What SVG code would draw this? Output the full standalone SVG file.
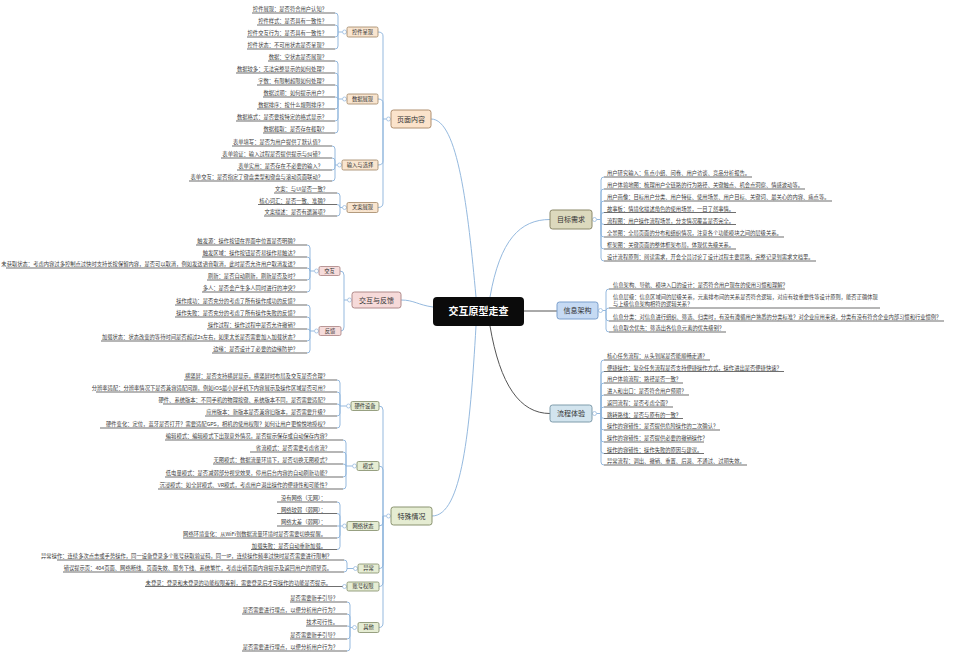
<svg xmlns="http://www.w3.org/2000/svg" width="959" height="663" viewBox="0 0 959 663">
<style>
.t{font-family:"Noto Sans CJK SC","Noto Sans",sans-serif;font-size:5.3px;fill:#3a3a3a}
.e{text-anchor:end}
.u{stroke:#6f6f6f;stroke-width:1.2;fill:none}
.b{stroke:#8fb5dc;stroke-width:0.95;fill:none}
.d{stroke:#555;stroke-width:1;fill:none}
.k{fill:#fff;stroke:#8fb5dc;stroke-width:0.7}
.m{font-family:"Noto Sans CJK SC","Noto Sans",sans-serif;font-size:7px;fill:#333;text-anchor:middle}
.s{font-family:"Noto Sans CJK SC","Noto Sans",sans-serif;font-size:5.3px;fill:#333;text-anchor:middle}
.o{fill:#f9e5cf;stroke:#a08463;stroke-width:0.8}
.p{fill:#f6dcdb;stroke:#a88080;stroke-width:0.8}
.g{fill:#e6edd4;stroke:#7f8a66;stroke-width:0.8}
</style>
<rect width="959" height="663" fill="#fff"/>
<g id="connectors">
<path class="b" d="M476,297 C468,210 458,119 431,119"/>
<path class="b" d="M433,307 C418,305 414,300 401,300"/>
<path class="b" d="M476,326 C470,430 462,516 432,516"/>
<path class="b" d="M490,297 C500,240 520,219.5 550,219.5"/>
<path class="d" d="M524,311 H557"/>
<path class="d" d="M490,326 C500,385 520,413.5 550,413.5"/>
<path class="b" d="M386.5,119H383 M383,119V36Q383,32 378,32 M383,119V103Q383,99 378,99 M383,119V161Q383,165 378,165 M383,119V203Q383,207.5 378,207.5"/>
<path class="b" d="M347.5,300H344 M344,300V275Q344,271 340,271 M344,300V327Q344,331 341,331"/>
<path class="b" d="M386.5,516H383 M383,516V410Q383,406 379,406 M383,516V470Q383,466 379,466 M383,516V522Q383,526 379,526 M383,516V564Q383,568.5 379,568.5 M383,516V582Q383,586.5 379,586.5 M383,516V623Q383,627.5 379,627.5"/>
<path class="b" d="M342.5,32H338 M338,32V16Q338,13 335,13 M338,32V28Q338,25 335,25 M338,32V34Q338,37 335,37 M338,32V46Q338,49 335,49"/>
<path class="b" d="M342.5,99H338 M338,99V64Q338,61 335,61 M338,99V76Q338,73 335,73 M338,99V88Q338,85 335,85 M338,99Q338,97 335,97 M338,99V106Q338,109 335,109 M338,99V118Q338,121 335,121 M338,99V130Q338,133 335,133"/>
<path class="b" d="M337.5,165H335 M335,165V149Q335,146 332,146 M335,165V161Q335,158 332,158 M335,165V167Q335,170 332,170 M335,165V178Q335,181 332,181"/>
<path class="b" d="M342.5,207.5H340 M340,207.5V196Q340,193 337,193 M340,207.5Q340,204.5 337,204.5 M340,207.5V213Q340,216 337,216"/>
<path class="b" d="M314.5,271H310 M310,271V248Q310,245 307,245 M310,271V260Q310,257 307,257 M310,271Q310,268 307,268 M310,271V277Q310,280 307,280 M310,271V289Q310,292 307,292"/>
<path class="b" d="M314.5,331H310 M310,331V308Q310,305 307,305 M310,331V320Q310,317 307,317 M310,331Q310,329 307,329 M310,331V338Q310,341 307,341 M310,331V350Q310,353 307,353"/>
<path class="b" d="M346.5,406H340 M340,406V383Q340,380 337,380 M340,406V395Q340,392 337,392 M340,406Q340,404 337,404 M340,406V413Q340,416 337,416 M340,406V425Q340,428 337,428"/>
<path class="b" d="M352.5,466H346 M346,466V443Q346,440 343,440 M346,466V455Q346,452 343,452 M346,466Q346,464 343,464 M346,466V474Q346,477 343,477 M346,466V486Q346,489 343,489"/>
<path class="b" d="M342.5,526H337 M340,526V505Q340,502 337,502 M340,526V516.5Q340,513.5 337,513.5 M340,526V535Q340,538 337,538 M340,526V546.5Q340,549.5 337,549.5"/>
<path class="b" d="M353.5,568.5H347 M347,568.5V563Q347,560 344,560 M347,568.5V569Q347,572 344,572"/>
<path class="b" d="M352.5,627.5H350 M350,627.5V605Q350,602 347,602 M350,627.5V617Q350,614 347,614 M350,627.5Q350,626 347,626 M350,627.5V636Q350,639 347,639 M350,627.5V648Q350,651 347,651"/>
<path class="b" d="M596.5,219.5H601 M601,219.5V180Q601,177 604,177 M601,219.5V192Q601,189 604,189 M601,219.5V204Q601,201 604,201 M601,219.5V215.5Q601,212.5 604,212.5 M601,219.5V221.5Q601,224.5 604,224.5 M601,219.5V234Q601,237 604,237 M601,219.5V246Q601,249 604,249 M601,219.5V258Q601,261 604,261"/>
<path class="b" d="M602.5,310.5H606 M606,310.5V292Q606,289 609,289 M606,310.5Q606,308 609,308 M606,310.5V318Q606,321 609,321 M606,310.5V329Q606,332 609,332"/>
<path class="b" d="M596.5,413.5H601 M601,413.5V363Q601,360 604,360 M601,413.5V374.5Q601,371.5 604,371.5 M601,413.5V386Q601,383 604,383 M601,413.5V398Q601,395 604,395 M601,413.5V410Q601,407 604,407 M601,413.5V415.5Q601,418.5 604,418.5 M601,413.5V427Q601,430 604,430 M601,413.5V439Q601,442 604,442 M601,413.5V450.5Q601,453.5 604,453.5 M601,413.5V462Q601,465 604,465"/>
<g>
<circle class="k" cx="388.5" cy="119" r="2"/><circle class="k" cx="349.5" cy="300" r="2"/><circle class="k" cx="388.5" cy="516" r="2"/>
<circle class="k" cx="344.5" cy="32" r="2"/><circle class="k" cx="344.5" cy="99" r="2"/><circle class="k" cx="339.5" cy="165" r="2"/><circle class="k" cx="344.5" cy="207.5" r="2"/>
<circle class="k" cx="316.5" cy="271" r="2"/><circle class="k" cx="316.5" cy="331" r="2"/>
<circle class="k" cx="348.5" cy="406" r="2"/><circle class="k" cx="354.5" cy="466" r="2"/><circle class="k" cx="344.5" cy="526" r="2"/><circle class="k" cx="355.5" cy="568.5" r="2"/><circle class="k" cx="344.5" cy="586.5" r="2"/><circle class="k" cx="354.5" cy="627.5" r="2"/>
<circle class="k" cx="594.5" cy="219.5" r="2"/><circle class="k" cx="600.5" cy="310.5" r="2"/><circle class="k" cx="594.5" cy="413.5" r="2"/>
</g>
</g>

<g id="center"><rect x="433" y="297" width="91" height="29" rx="4" fill="#0b0b0b"/><text x="478.5" y="315" font-family="Noto Sans CJK SC, sans-serif" font-size="10" font-weight="bold" fill="#fff" text-anchor="middle">交互原型走查</text></g>
<g id="n-mubiao"><rect x="550" y="210" width="42" height="19" rx="2.5" fill="#dcd9bd" stroke="#8b8868"/><text class="m" x="571" y="222">目标需求</text></g>
<g id="n-xinxi"><rect x="557" y="302" width="41" height="17" rx="2.5" fill="#c6daf3" stroke="#7b9fcd"/><text class="m" x="577.5" y="313">信息架构</text></g>
<g id="n-liucheng"><rect x="550" y="405" width="42" height="17" rx="2.5" fill="#d2e4ee" stroke="#7f9cab"/><text class="m" x="571" y="416">流程体验</text></g>
<g id="n-yemian"><rect x="391" y="110" width="40" height="18" rx="2.5" fill="#fbe3cb" stroke="#b09070"/><text class="m" x="411" y="121.5">页面内容</text></g>
<g id="n-jiaohu"><rect x="352" y="292" width="49" height="16" rx="2.5" fill="#f6dad9" stroke="#b08a8a"/><text class="m" x="376.5" y="302.5">交互与反馈</text></g>
<g id="n-teshu"><rect x="391" y="507" width="41" height="18" rx="2.5" fill="#e5ecd2" stroke="#8a9370"/><text class="m" x="411.5" y="518.5">特殊情况</text></g>

<g id="s-kongjian"><rect class="o" x="347" y="27" width="31" height="10" rx="1.5"/><text class="s" x="362.5" y="33.9">控件呈现</text></g>
<g id="s-shuju"><rect class="o" x="347" y="94" width="31" height="10" rx="1.5"/><text class="s" x="362.5" y="100.9">数据展现</text></g>
<g id="s-shuru"><rect class="o" x="342" y="160" width="36" height="10" rx="1.5"/><text class="s" x="360" y="166.9">输入与选择</text></g>
<g id="s-wenan"><rect class="o" x="347" y="202.5" width="31" height="10" rx="1.5"/><text class="s" x="362.5" y="209.4">文案展现</text></g>
<g id="s-jh"><rect class="p" x="319" y="266.5" width="21" height="9" rx="1.5"/><text class="s" x="329.5" y="272.9">交互</text></g>
<g id="s-fk"><rect class="p" x="319" y="326.5" width="22" height="9" rx="1.5"/><text class="s" x="330" y="332.9">反馈</text></g>
<g id="s-yingjian"><rect class="g" x="351" y="401.5" width="28" height="9" rx="1.5"/><text class="s" x="365" y="407.9">硬件设备</text></g>
<g id="s-moshi"><rect class="g" x="357" y="461.5" width="22" height="9" rx="1.5"/><text class="s" x="368" y="467.9">模式</text></g>
<g id="s-wangluo"><rect class="g" x="347" y="521.5" width="32" height="9" rx="1.5"/><text class="s" x="363" y="527.9">网络状态</text></g>
<g id="s-yichang"><rect class="g" x="358" y="564" width="21" height="9" rx="1.5"/><text class="s" x="368.5" y="570.4">异常</text></g>
<g id="s-zhanghao"><rect class="g" x="347" y="582" width="32" height="9" rx="1.5"/><text class="s" x="363" y="588.4">账号权限</text></g>
<g id="s-qita"><rect class="g" x="358" y="622.5" width="21" height="10" rx="1.5"/><text class="s" x="368.5" y="629.4">其他</text></g>

<g id="leaves-kongjian">
<g id="a1"><path class="u" d="M252,13H335"/><text class="t e" x="327" y="11">控件展现：是否符合用户认知？</text></g>
<g id="a2"><path class="u" d="M257,25H335"/><text class="t e" x="327" y="23">控件样式：是否具有一致性？</text></g>
<g id="a3"><path class="u" d="M247,37H335"/><text class="t e" x="327" y="35">控件交互行为：是否具有一致性？</text></g>
<g id="a4"><path class="u" d="M247,49H335"/><text class="t e" x="327" y="47">控件状态：不可用状态是否呈现？</text></g>
</g>
<g id="leaves-shuju">
<g id="b1"><path class="u" d="M268,61H335"/><text class="t e" x="327" y="59">数据：空状态是否展现？</text></g>
<g id="b2"><path class="u" d="M236,73H335"/><text class="t e" x="327" y="71">数据较多：无法完整显示的如何处理？</text></g>
<g id="b3"><path class="u" d="M257,85H335"/><text class="t e" x="327" y="83">字数：有限制超限如何处理？</text></g>
<g id="b4"><path class="u" d="M263,97H335"/><text class="t e" x="327" y="95">数据过期：如何提示用户？</text></g>
<g id="b5"><path class="u" d="M257,109H335"/><text class="t e" x="327" y="107">数据排序：按什么规则排序？</text></g>
<g id="b6"><path class="u" d="M236,121H335"/><text class="t e" x="327" y="119">数据格式：是否要按特定的格式显示？</text></g>
<g id="b7"><path class="u" d="M263,133H335"/><text class="t e" x="327" y="131">数据截取：是否存在截取？</text></g>
</g>
<g id="leaves-shuru">
<g id="c1"><path class="u" d="M232,146H332"/><text class="t e" x="323" y="144">表单填写：是否为用户提供了默认值？</text></g>
<g id="c2"><path class="u" d="M221,158H332"/><text class="t e" x="323" y="156">表单验证：输入过程是否提供提示与纠错？</text></g>
<g id="c3"><path class="u" d="M237,170H332"/><text class="t e" x="323" y="168">表单实用：是否存在不必要的输入？</text></g>
<g id="c4"><path class="u" d="M189,181H332"/><text class="t e" x="323" y="179">表单交互：是否指定了键盘类型和键盘与滚动页面联动？</text></g>
</g>
<g id="leaves-wenan">
<g id="d1"><path class="u" d="M274,193H337"/><text class="t e" x="328" y="191">文案：与UI是否一致？</text></g>
<g id="d2"><path class="u" d="M258,204.5H337"/><text class="t e" x="328" y="202.5">核心词汇：是否一致、准确？</text></g>
<g id="d3"><path class="u" d="M264,216H337"/><text class="t e" x="328" y="214">文案描述：是否有遗漏项？</text></g>
</g>
<g id="leaves-jiaohu">
<g id="e1"><path class="u" d="M196,245H307"/><text class="t e" x="298" y="243">触发源：操作按钮在界面中位置是否明确？</text></g>
<g id="e2"><path class="u" d="M202,257H307"/><text class="t e" x="298" y="255">触发区域：操作按钮是否易操作易触达？</text></g>
<g id="e3"><path class="u" d="M6,268H307"/><text class="t e" x="298" y="266">未获取状态：考虑内容过多控制点过快时支持长按保留内容，是否可以取消，例如发送语音取消，此时是否允许用户取消发送？</text></g>
<g id="e4"><path class="u" d="M207,280H307"/><text class="t e" x="298" y="278">刷新：是否自动刷新，刷新是否及时？</text></g>
<g id="e5"><path class="u" d="M202,292H307"/><text class="t e" x="298" y="290">多人：是否会产生多人同时进行的冲突？</text></g>
</g>
<g id="leaves-fankui">
<g id="f1"><path class="u" d="M175,305H307"/><text class="t e" x="298" y="303">操作成功：是否充分的考虑了所有操作成功的反馈？</text></g>
<g id="f2"><path class="u" d="M175,317H307"/><text class="t e" x="298" y="315">操作失败：是否充分的考虑了所有操作失败的反馈？</text></g>
<g id="f3"><path class="u" d="M207,329H307"/><text class="t e" x="298" y="327">操作过程：操作过程中是否允许撤销？</text></g>
<g id="f4"><path class="u" d="M101,341H307"/><text class="t e" x="298" y="339">加载状态：状态改变的等待时间是否超过2s左右，如果太长是否需要加入加载状态？</text></g>
<g id="f5"><path class="u" d="M212,353H307"/><text class="t e" x="298" y="351">边缘：是否设计了必要的边缘防护？</text></g>
</g>
<g id="leaves-yingjian">
<g id="g1"><path class="u" d="M184,380H337"/><text class="t e" x="328" y="378">横竖屏：是否支持横屏显示，横竖屏时布局及交互是否合理？</text></g>
<g id="g2"><path class="u" d="M96,392H337"/><text class="t e" x="328" y="390">分辨率适配：分辨率情况下是否兼容适配问题，例如iOS最小屏手机下内容展示及操作区域是否可用？</text></g>
<g id="g3"><path class="u" d="M163,404H337"/><text class="t e" x="328" y="402">硬件、系统版本：不同手机的物理按键、系统版本不同，是否需要适配？</text></g>
<g id="g4"><path class="u" d="M205,416H337"/><text class="t e" x="328" y="414">应用版本：新版本是否兼容旧版本，是否需要升级？</text></g>
<g id="g5"><path class="u" d="M100,428H337"/><text class="t e" x="328" y="426">硬件变化：定位，蓝牙是否打开？需要适配GPS，相机的使用权限？如何让用户更愉悦地授权？</text></g>
</g>
<g id="leaves-moshi">
<g id="h1"><path class="u" d="M165,440H343"/><text class="t e" x="330" y="438">编辑模式：编辑模式下出现意外情况，是否提示保存或自动保存内容？</text></g>
<g id="h2"><path class="u" d="M250,452H343"/><text class="t e" x="330" y="450">省流模式：是否需要考虑省流？</text></g>
<g id="h3"><path class="u" d="M213,464H343"/><text class="t e" x="330" y="462">无图模式：数据流量环境下，是否切换无图模式？</text></g>
<g id="h4"><path class="u" d="M165,477H343"/><text class="t e" x="330" y="475">低电量模式：是否减弱部分视觉效果，停用后台内容的自动刷新功能？</text></g>
<g id="h5"><path class="u" d="M158,489H343"/><text class="t e" x="330" y="487">沉浸模式：如全屏模式、VR模式，考虑用户退出操作的便捷性和可能性？</text></g>
</g>
<g id="leaves-wangluo">
<g id="i1"><path class="u" d="M277,502H337"/><text class="t e" x="326" y="500">没有网络（无网）：</text></g>
<g id="i2"><path class="u" d="M277,513.5H337"/><text class="t e" x="326" y="511.5">网络较弱（弱网）：</text></g>
<g id="i3"><path class="u" d="M277,526H337"/><text class="t e" x="326" y="524">网络太差（弱网）：</text></g>
<g id="i4"><path class="u" d="M183,538H337"/><text class="t e" x="326" y="536">网络环境变化：从WiFi到数据流量环境时是否需要切换提醒。</text></g>
<g id="i5"><path class="u" d="M251,549.5H337"/><text class="t e" x="326" y="547.5">加载失败：是否自动重新加载。</text></g>
</g>
<g id="leaves-yichang">
<g id="j1"><path class="u" d="M57,560H344"/><text class="t e" x="332" y="558">异常操作：连续多次点击或手势操作，同一设备登录多个账号获取验证码，同一IP，连续操作频率过快时是否需要进行限制？</text></g>
<g id="j2"><path class="u" d="M63,572H344"/><text class="t e" x="332" y="570">错误提示页：404页面、网络断线、页面失效、服务下线、系统繁忙，考虑出错页面内容提示及返回用户的期望页。</text></g>
</g>
<g id="leaves-zhanghao">
<g id="k1"><path class="u" d="M145,586.5H342.5"/><text class="t e" x="331" y="584.5">未登录：登录和未登录的功能权限差别，需要登录后才可操作的功能是否提示。</text></g>
</g>
<g id="leaves-qita">
<g id="m1"><path class="u" d="M290,602H347"/><text class="t e" x="338" y="600">是否需要新手引导？</text></g>
<g id="m2"><path class="u" d="M242,614H347"/><text class="t e" x="338" y="612">是否需要进行埋点，以便分析用户行为？</text></g>
<g id="m3"><path class="u" d="M306,626H347"/><text class="t e" x="338" y="624">技术可行性。</text></g>
<g id="m4"><path class="u" d="M290,639H347"/><text class="t e" x="338" y="637">是否需要新手引导？</text></g>
<g id="m5"><path class="u" d="M242,651H347"/><text class="t e" x="338" y="649">是否需要进行埋点，以便分析用户行为？</text></g>
</g>

<g id="leaves-mubiao">
<g id="r1"><path class="u" d="M604,177H752"/><text class="t" x="607" y="175">用户研究输入：焦点小组、问卷、用户访谈、竞品分析报告。</text></g>
<g id="r2"><path class="u" d="M604,189H805"/><text class="t" x="607" y="187">用户体验地图：梳理用户全链路的行为路径、关键触点、机会点洞察、情感波动等。</text></g>
<g id="r3"><path class="u" d="M604,201H832"/><text class="t" x="607" y="199">用户画像：目标用户分类、用户特征、使用场景、用户目标、关键词、最关心的内容、痛点等。</text></g>
<g id="r4"><path class="u" d="M604,212.5H736"/><text class="t" x="607" y="210.5">故事板：情境化描述角色的使用场景，一目了然事情。</text></g>
<g id="r5"><path class="u" d="M604,224.5H736"/><text class="t" x="607" y="222.5">流程图：用户操作流程场景，分支情况覆盖是否完全。</text></g>
<g id="r6"><path class="u" d="M604,237H784"/><text class="t" x="607" y="235">全景图：全局页面的分布和组织情况，注意各个功能模块之间的层级关系。</text></g>
<g id="r7"><path class="u" d="M604,249H736"/><text class="t" x="607" y="247">框架图：关键页面的整体框架布局，体现优先级关系。</text></g>
<g id="r8"><path class="u" d="M604,261H816"/><text class="t" x="607" y="259">设计流程原则：阅读需求，开会全员讨论了设计过程主要思路，完整记录到需求文档里。</text></g>
</g>
<g id="leaves-xinxi">
<g id="x1"><path class="u" d="M609,289H785"/><text class="t" x="613" y="287">信息架构、导航、模块入口的设计：是否符合用户现在的使用习惯和理解？</text></g>
<g id="x2"><path class="u" d="M609,308H880"/><text class="t" x="613" y="299">信息层级：信息区域间的层级关系，元素排布间的关系是否符合逻辑，对应有较重要性等设计原则，能否正确体现</text><text class="t" x="613" y="306">与上级信息架构相符的逻辑关系？</text></g>
<g id="x3"><path class="u" d="M609,321H944"/><text class="t" x="613" y="319">信息分类：对信息进行组织、筛选、归类时，有没有遵循用户熟悉的分类标准？对企业应用来说，分类有没有符合企业内部习惯和行业惯例？</text></g>
<g id="x4"><path class="u" d="M609,332H726"/><text class="t" x="613" y="330">信息取舍优先：筛选出各信息元素的优先级别？</text></g>
</g>
<g id="leaves-liucheng">
<g id="y1"><path class="u" d="M604,360H710"/><text class="t" x="607" y="358">核心任务流程：从头到尾是否能顺畅走通？</text></g>
<g id="y2"><path class="u" d="M604,371.5H784"/><text class="t" x="607" y="369.5">便捷操作：复杂任务流程是否支持便捷操作方式，操作进出是否便捷快速？</text></g>
<g id="y3"><path class="u" d="M604,383H683"/><text class="t" x="607" y="381">用户体验流程：路径是否一致？</text></g>
<g id="y4"><path class="u" d="M604,395H689"/><text class="t" x="607" y="393">进入和出口：是否符合用户预期？</text></g>
<g id="y5"><path class="u" d="M604,407H673"/><text class="t" x="607" y="405">返回流程：是否考虑全面？</text></g>
<g id="y6"><path class="u" d="M604,418.5H683"/><text class="t" x="607" y="416.5">跳转路线：是否与原有的一致？</text></g>
<g id="y7"><path class="u" d="M604,430H720"/><text class="t" x="607" y="428">操作的容错性：是否提供危险操作的二次确认？</text></g>
<g id="y8"><path class="u" d="M604,442H704"/><text class="t" x="607" y="440">操作的容错性：是否提供必要的撤销操作？</text></g>
<g id="y9"><path class="u" d="M604,453.5H704"/><text class="t" x="607" y="451.5">操作的容错性：操作失败的原因与建议。</text></g>
<g id="y10"><path class="u" d="M604,465H747"/><text class="t" x="607" y="463">异常流程：调出、撤销、重置、后退、不通过、过期失效。</text></g>
</g>
</svg>
